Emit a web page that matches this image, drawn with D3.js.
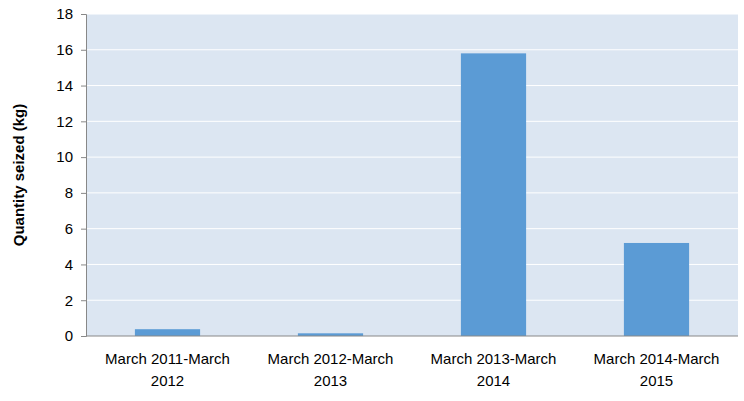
<!DOCTYPE html>
<html><head><meta charset="utf-8">
<script src="https://cdn.jsdelivr.net/npm/d3@7"></script>
<style>body{margin:0;background:#fff}svg{font-family:"Liberation Sans",Arial,sans-serif}</style>
</head><body><svg id="c" width="744" height="401"></svg>
<script>
const categories = [["March 2011-March","2012"],["March 2012-March","2013"],["March 2013-March","2014"],["March 2014-March","2015"]];
const values = [0.38, 0.15, 15.8, 5.2];
const yTicks = [0,2,4,6,8,10,12,14,16,18];

const svg = d3.select("#c");
const m = {l:86, r:738, t:14, b:336};
const x = d3.scaleBand().domain(d3.range(categories.length)).range([m.l, m.r]).paddingInner(0.6).paddingOuter(0.3);
const y = d3.scaleLinear().domain([0,18]).range([m.b, m.t]);

svg.append("rect").attr("x",m.l).attr("y",m.t).attr("width",m.r-m.l).attr("height",m.b-m.t).attr("fill","#dce6f2");
svg.append("g").selectAll("line").data(yTicks.slice(1)).join("line")
  .attr("x1",m.l).attr("x2",m.r).attr("y1",d=>y(d)).attr("y2",d=>y(d)).attr("stroke","#fff").attr("stroke-width",1);
svg.append("g").selectAll("rect").data(values).join("rect")
  .attr("x",(d,i)=>x(i)).attr("width",x.bandwidth()).attr("y",d=>y(d)).attr("height",d=>y(0)-y(d)).attr("fill","#5b9bd5");

const ya = svg.append("g").attr("transform",`translate(${m.l},0)`).call(d3.axisLeft(y).tickValues(yTicks).tickSize(5).tickPadding(8));
ya.select(".domain").attr("stroke","#888");
ya.selectAll(".tick line").attr("stroke","#888");
ya.selectAll("text").attr("font-size",15).attr("fill","#000");
svg.append("line").attr("x1",m.l).attr("x2",m.r).attr("y1",m.b).attr("y2",m.b).attr("stroke","#888");

const xl = svg.append("g").selectAll("text").data(categories).join("text")
  .attr("text-anchor","middle").attr("font-size",15).attr("fill","#000");
xl.each(function(d,i){
  const t=d3.select(this), cx=x(i)+x.bandwidth()/2;
  d.forEach((s,j)=>t.append("tspan").attr("x",cx).attr("y",364+j*22).text(s));
});
svg.append("text").attr("transform","translate(24,175) rotate(-90)").attr("text-anchor","middle")
  .attr("font-size",15).attr("font-weight","bold").text("Quantity seized (kg)");
</script></body></html>
